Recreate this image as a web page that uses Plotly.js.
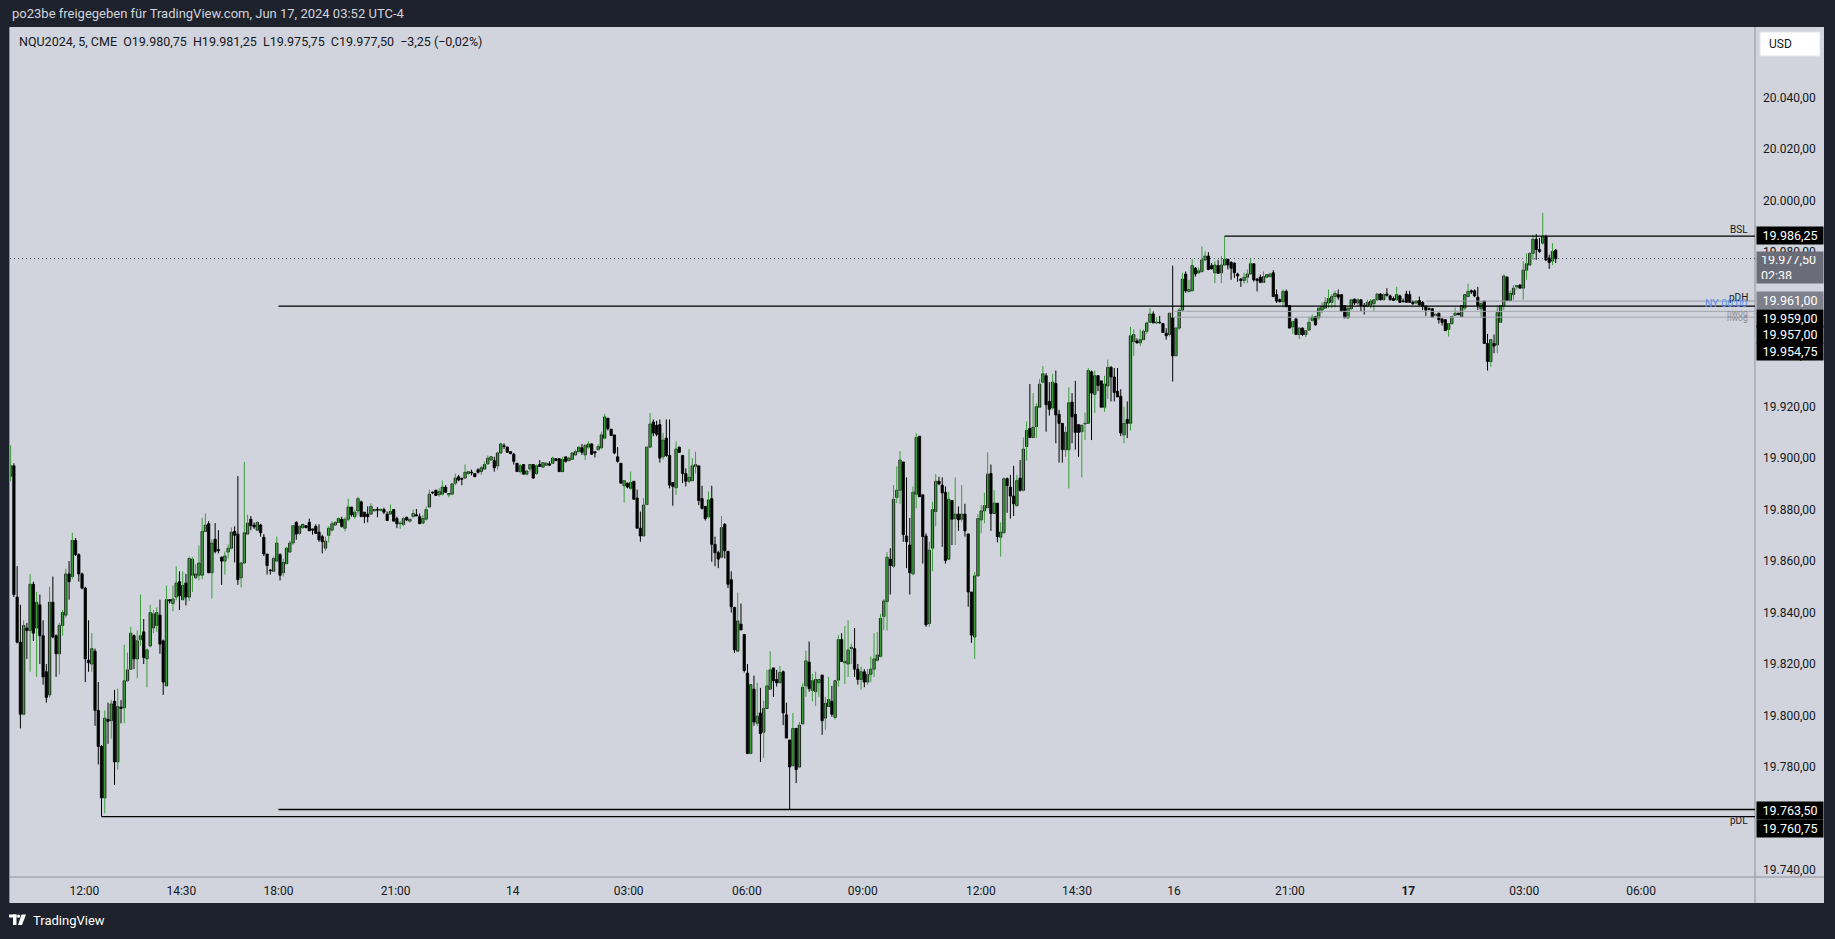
<!DOCTYPE html>
<html><head><meta charset="utf-8">
<script src="https://cdn.plot.ly/plotly-3.0.1.min.js"></script>
<style>html,body{margin:0;padding:0;background:#1e222d;overflow:hidden}#chart{width:1835px;height:939px}</style>
</head><body><div id="chart"></div><script>
// NQU2024, 5-minute bars, Jun 13 10:05 -> Jun 17 03:50 (ET)
const openPx = [
19893,19897,19846,19828.5,19800.5,19834,19833,19851,19834,19843,
19831,19817,19808,19844,19831,19824,19835,19839,19855,19854,
19868,19862.5,19855,19849.5,19821.5,19820,19825,19802,19788,19768,
19798.5,19798,19805.5,19782,19803.25,19803,19813.5,19818,19831,19822,
19829.5,19832.5,19822,19827,19834,19835,19839,19829,19811.5,19845,
19843.5,19846,19852,19845,19851.5,19846,19854.5,19853.5,19854.5,19854.5,
19871.5,19874.5,19855.5,19868.5,19864.5,19861.5,19860,19863.5,19865,19871.5,
19870.5,19853.5,19859.25,19870.5,19876.25,19874,19872,19874,19869.25,19862.75,
19856.5,19856,19860,19862.5,19855.5,19859,19863.5,19867,19875,19870.75,
19873,19873.75,19875,19872.5,19873.5,19871.25,19869.5,19865,19870,19872,
19874,19875,19876.25,19872.75,19876.25,19881,19877.25,19879.5,19883,19879,
19878.25,19878.25,19879.5,19880,19879.75,19880,19878.25,19878.25,19880,19876.5,
19874.5,19874.25,19877,19875.5,19877.25,19878,19877.25,19874.75,19876.25,19881,
19886.75,19887.5,19885.75,19886,19888.75,19885.75,19886,19890.25,19892.75,19892,
19892.25,19894,19894.5,19894,19895.5,19894.75,19895.75,19897.75,19899.25,19899,
19897,19902,19904.75,19904.25,19902.5,19901.5,19898,19894.75,19897.5,19893.75,
19895.75,19897.5,19894,19897.5,19896.5,19897.25,19897.75,19898,19899.75,19899.75,
19894.75,19900.5,19899,19899.5,19901.25,19902.5,19904,19901.25,19904.25,19905.5,
19902.5,19903.25,19904,19907.75,19915.5,19911.25,19909,19900.5,19898,19889.25,
19890.25,19888.25,19891,19884.5,19872.75,19869.75,19882,19904.25,19914,19912.75,
19913,19900.5,19907.75,19901,19890.5,19888.5,19904.25,19901,19894,19891,
19891.25,19896.75,19897,19884.25,19881.25,19877.25,19884.25,19866.5,19863.25,19861.5,
19874.25,19863.75,19852.75,19842,19825,19835.5,19831.5,19816.5,19785.25,19810.25,
19797,19801,19793.5,19802.75,19810.25,19818.5,19814,19812.75,19817,19800.25,
19790.5,19780.5,19795,19780,19796.75,19811.5,19820.75,19809.75,19809.25,19812.75,
19815.75,19799,19803.5,19805.5,19799.25,19813.75,19829.5,19820.5,19820,19826,
19826,19818,19814,19817,19813,19816,19818,19821.5,19823,19838.5,
19844.25,19860.75,19858,19884.75,19887.5,19898.5,19869.75,19866.25,19855,19886,
19908.5,19885.75,19869.75,19835.75,19865,19879.25,19891,19889.5,19886.75,19860.75,
19883.5,19876.5,19878.25,19876.25,19878.25,19870.5,19848,19830.5,19854.25,19876,
19879.5,19880.75,19894,19878.5,19882.5,19869.25,19871,19892,19888.75,19885.25,
19881.5,19892.25,19887.5,19904.5,19911.5,19908,19912.25,19919.75,19929.5,19932,
19922,19919.5,19929,19917,19913.5,19903.25,19903.25,19921.75,19917,19913,
19910.25,19913.25,19913.5,19933.5,19924.75,19932,19930,19919.75,19928,19935.25,
19931.5,19926,19924,19909,19915,19913.5,19945.25,19945.5,19944.75,19946,
19949.25,19952.75,19956,19952.5,19952.75,19952.25,19948.5,19948,19954.5,19939.75,
19950.5,19957.5,19971.5,19964.75,19965,19973.75,19972,19972.5,19977,19978.5,
19974.75,19972,19974.75,19972,19975,19977.25,19976,19975.75,19971.5,19969.5,
19969,19970.25,19971.5,19975.5,19969.5,19970.25,19968.25,19970.25,19970.5,19972,
19963.5,19961.5,19960.75,19964.75,19959.25,19951,19954,19948,19950.5,19948,
19949.75,19953.5,19955,19954.5,19957.5,19958.25,19960.25,19960.5,19962.75,19963.5,
19963.5,19959.25,19954.5,19958,19961.75,19960.25,19961.5,19959.25,19959.25,19959.5,
19960,19961.5,19963.75,19961.5,19963.75,19963,19962,19961.5,19963,19961,
19963.75,19963.5,19960.5,19960.25,19961.25,19960.5,19959,19958,19958,19955.5,
19956.25,19954,19953.75,19950,19952.25,19955.5,19956.25,19955,19958.25,19962.75,
19965,19965,19962.5,19958,19961,19944.5,19937.5,19944.5,19944,19952.75,
19959.25,19970.25,19961.25,19963.5,19966.5,19967.25,19966,19973,19975,19979.5,
19985,19981,19983.5,19986,19977.75,19976.5,19980.75];
const highPx = [
19905,19898,19858,19843,19837,19836,19855,19852,19848,19847,
19837,19820,19850,19854,19831.5,19836,19841,19857,19860,19871,
19869,19863,19855.5,19850,19837,19832,19826,19813,19788.5,19802,
19805,19806,19810,19810.5,19806,19827.5,19824.5,19834.5,19831.5,19833,
19847,19837.5,19826,19843,19841,19842,19845,19829.5,19850.5,19845.25,
19850.5,19858,19856,19856,19855,19861.75,19861.5,19858.75,19866,19876.75,
19878.5,19875.5,19868.5,19874.75,19872,19861.75,19863.75,19866.5,19873,19873.5,
19893,19859.75,19898.5,19878,19877.5,19875,19875.5,19874.5,19870.5,19862.75,
19856.75,19861.75,19869.5,19863,19861,19865.5,19868,19874,19875.5,19874,
19874.25,19874,19876.5,19872.5,19874.25,19874.25,19870.25,19869.5,19873.5,19875.5,
19875.5,19877,19877.25,19877,19884.25,19881,19880,19885,19883.5,19879,
19881.25,19882.5,19880,19881,19880.5,19880.75,19879.25,19882,19880,19877.25,
19875.5,19877.25,19877.25,19876.5,19880,19880.25,19878.5,19878,19881.25,19887.75,
19887,19887.75,19888.25,19891.25,19889.5,19886.25,19890.25,19894,19893.5,19892.5,
19897.5,19895,19895.5,19894,19896,19897,19898.75,19901,19900.5,19900.5,
19902.5,19906,19905.75,19904.5,19902.5,19902,19898,19897.75,19897.5,19895,
19897.5,19897.5,19897.5,19899.25,19898.5,19898.5,19898.75,19900.5,19900,19900,
19900.5,19900.5,19900.5,19902.25,19903.25,19904.5,19905.5,19905,19906.5,19905.75,
19902.5,19905.5,19910.25,19917.25,19915.5,19911.25,19909,19904.25,19898,19891.5,
19890.5,19894.75,19891,19887.75,19879.25,19884.5,19904.5,19917.5,19915,19914.5,
19915,19909.75,19915,19915,19890.5,19906.5,19904.5,19901.25,19896,19903.5,
19900,19902.5,19897,19889.25,19881.25,19887,19889.25,19869.5,19864,19877.5,
19874.75,19864,19856,19842.25,19847.75,19843.5,19831.5,19820,19812,19815.5,
19812.75,19810.75,19805.75,19817.75,19825,19818.5,19817.75,19819.25,19817.5,19805,
19790.5,19801,19795,19797.5,19812.5,19825.25,19828.75,19816.25,19817,19814.25,
19815.75,19807.25,19815,19811.5,19813.5,19831.25,19832,19834.75,19837,19828,
19834,19820,19819,19818,19818,19823,19832,19832.5,19839.5,19845.25,
19863.5,19865,19889.5,19896.75,19902.75,19898.5,19892.5,19876.75,19889,19909.75,
19908.5,19885.75,19870.75,19867.5,19883,19893.75,19892.75,19892.5,19889,19887,
19883.5,19892.5,19881.25,19889.5,19882.25,19870.75,19848,19855.75,19878.25,19881.75,
19886.5,19902.25,19897.5,19887.5,19882.5,19875,19892.5,19892.5,19893.5,19897,
19893.5,19899.25,19908,19914.25,19928.75,19925.25,19921.25,19930.75,19935.75,19933,
19929.5,19932.75,19934,19918.75,19913.5,19912.25,19927.5,19925.25,19930,19913,
19913,19917.75,19935,19934,19934,19932.25,19930,19932,19938.25,19935.75,
19935,19935,19926.75,19920,19922,19951,19950,19946.5,19950,19950,
19953,19958.25,19957,19954.75,19955.25,19952.5,19950.5,19956.5,19974.75,19951,
19958.25,19972,19972.5,19969.25,19977.25,19974.25,19974,19982.25,19980.25,19980,
19975.75,19976.5,19977,19978.5,19986.25,19977.25,19976.5,19976,19972,19970,
19972,19973.25,19977.75,19975.5,19970,19971.25,19972.5,19971.25,19972,19973,
19965.5,19962,19965.5,19965.5,19959.25,19953.25,19954.5,19950.75,19950.75,19949.75,
19955,19955.75,19955.25,19958.5,19960.5,19962.5,19965.5,19963.75,19965,19965.5,
19963.5,19959.25,19958.5,19961.75,19962,19962,19961.75,19960.25,19961.5,19961.75,
19961.75,19964,19964,19964,19966,19963.5,19962.75,19966.5,19963.5,19962,
19965,19965,19961.25,19961.25,19962.75,19961,19959.25,19958.5,19958.25,19956.25,
19956.5,19954.5,19954,19952.5,19955.25,19958.5,19956.5,19959.25,19963.5,19967.75,
19965.5,19965.5,19966.5,19961,19961,19948.25,19946,19948,19959.25,19959.5,
19971.25,19970.75,19965,19967.25,19967.25,19967.5,19976.5,19979.5,19980,19986.75,
19987,19985.5,19995.25,19986.75,19979,19983.5,19981.25];
const lowPx = [
19891,19846,19828,19795,19800,19822,19817,19829,19815,19820,
19812,19805,19807,19830,19815,19816,19831,19838,19845,19853,
19862,19852,19849,19813,19817,19817,19796,19781,19760.75,19762,
19789,19791,19773,19779,19797,19797,19813,19818,19818,19814.5,
19827,19820,19811,19826.5,19832,19832.5,19824,19808,19811.5,19843.5,
19840.5,19844.75,19841,19844.75,19842.75,19844.5,19848,19853,19852.5,19853,
19871.25,19855.25,19845.5,19863,19863,19850.75,19854.75,19861,19864.5,19859.5,
19850.75,19849.75,19859,19870.25,19872,19872.5,19872,19869.5,19862,19854.75,
19854.75,19855.75,19859.75,19852.5,19854,19858.75,19863.25,19866.25,19868.25,19870.25,
19872.5,19872.75,19871.75,19870.25,19870.5,19867.5,19863,19864,19867.25,19871.5,
19873.75,19874.75,19873,19871.5,19875.5,19877.25,19876.5,19878,19877.25,19874.75,
19875,19878,19879.5,19877,19879.25,19878.25,19875.75,19878,19875.5,19872.75,
19872.5,19873.5,19875.5,19875,19877,19877.5,19874.5,19874.5,19875.75,19880.75,
19886,19885.25,19885,19885.5,19886.5,19884.75,19885.75,19889.5,19891,19889.5,
19892,19893.5,19893.25,19892.75,19894,19893.5,19895.5,19897.5,19899,19894.75,
19895.5,19901.5,19903.5,19902,19901.5,19897.5,19894.75,19894,19893.75,19893.25,
19894.75,19892,19893.5,19896.75,19896.5,19897,19897,19897.75,19899,19894.75,
19894.75,19898.25,19899,19899.25,19901,19902.25,19901.25,19899.25,19903.5,19901.25,
19900.25,19903,19903.5,19907.25,19910.75,19908.75,19901.5,19898.25,19890.25,19882.75,
19888.25,19887.75,19884,19872.75,19867.5,19869.75,19881.75,19904,19908.5,19908.5,
19898.25,19899.5,19900.5,19888.25,19881.5,19885.75,19902,19890.25,19889,19890.25,
19891.25,19894,19881.75,19880,19875.75,19876.5,19859.75,19858,19857.25,19861,
19861,19849.5,19840,19824.25,19824.75,19833.25,19816.75,19785,19785,19796,
19796,19782,19783.5,19802.75,19810.25,19807.25,19811.25,19812.5,19796.25,19791.25,
19763.5,19780.5,19773.75,19780,19796.75,19807.25,19809.25,19805.5,19803.75,19807.25,
19792.5,19794.5,19803.5,19799.5,19798.5,19811.25,19821,19812.25,19815,19820,
19815,19812,19810,19811,19812,19813,19815,19821,19822.5,19833.25,
19833,19847,19857.25,19882.5,19882.25,19867.5,19857.25,19847,19854.5,19880.5,
19885,19859,19834.5,19834.5,19856,19873.5,19889.5,19865.5,19859,19860.5,
19866.25,19866.25,19871.75,19875.25,19869.5,19842.25,19828.25,19822,19854,19870.75,
19874.75,19880.5,19871.75,19878.5,19867.25,19861.75,19870.75,19878.75,19876.5,19877.5,
19881.25,19887,19887,19899,19907.75,19907.75,19907.75,19919.5,19929,19910.25,
19916.5,19918.75,19905.75,19898.25,19898.25,19900.5,19888.25,19905.75,19903.25,19900.5,
19892.5,19907,19913.25,19907,19917.5,19926,19919.75,19918,19923,19922,
19922,19923.75,19908.5,19905.75,19907.75,19910.75,19939.75,19944.5,19943.5,19946,
19948.25,19952.5,19952.5,19952.25,19952.25,19948.75,19946,19947.25,19929.75,19939.75,
19949.75,19957.5,19964.25,19964.25,19964.75,19970.5,19971.5,19972,19976.5,19973,
19973.25,19968,19971.5,19968,19974.75,19973.25,19969.25,19970,19968.5,19966.5,
19967.75,19968,19971.25,19968.5,19964.75,19968,19968,19970,19970.25,19962.5,
19960.25,19960.5,19958.5,19958.5,19950.5,19948.25,19948,19946.25,19947.5,19947,
19949.5,19953,19951.5,19953.75,19956.25,19958,19958.25,19958.25,19958.5,19961.5,
19957,19954.5,19954,19957.5,19959.5,19959,19957,19955.75,19958.5,19958.25,
19957.25,19961.25,19961.25,19961.25,19962.75,19961.25,19961,19961.25,19960.25,19960.5,
19960.5,19960.5,19959.5,19960,19959.25,19957.5,19955.25,19957.5,19954.75,19955.25,
19952.25,19951.5,19949.5,19947.25,19951.75,19955.25,19955.5,19955,19957.5,19962.5,
19963.75,19962.5,19957.5,19954.5,19944.5,19934,19935.5,19940.75,19940.75,19952.5,
19957.5,19961.25,19961,19961.5,19965.5,19966,19961.5,19969.25,19974.75,19977,
19977,19979.75,19983,19976.5,19973.5,19975,19975.75];
const closePx = [
19897,19847,19828.5,19800.5,19835,19833,19851,19832,19844,19831,
19815,19807,19844,19830.5,19824,19835,19840,19855,19852,19868,
19862.5,19855,19849.5,19822,19820.5,19826,19802,19788,19768,19799,
19797.75,19804.5,19782,19803.5,19802.75,19813.5,19817.75,19832,19822,19829,
19831,19822.5,19825.5,19840,19839.5,19840,19827.75,19813,19845,19844.5,
19845.25,19851.5,19846.5,19850.5,19846,19861,19860.75,19855,19859.25,19871.5,
19874,19855.5,19867,19863.75,19864,19860,19862,19865,19871.25,19870,
19852.75,19859.25,19871,19874.75,19873.75,19873.25,19875,19871,19862.75,19858.25,
19856.25,19861,19867,19854.5,19859.5,19865,19867,19873.75,19870.5,19873.5,
19874.25,19873,19871.75,19872,19870.75,19868.25,19867.5,19867.75,19872.75,19874.5,
19875,19876.5,19873.5,19876.25,19881,19878,19879,19884.25,19877.25,19877.25,
19877.25,19881.25,19880,19879.75,19880,19879,19875.75,19879.25,19875.5,19874.5,
19874.75,19876.5,19876,19876.25,19878.5,19877.5,19874.5,19876.5,19880,19886,
19886.5,19885.5,19887,19888.75,19886.75,19886.25,19890,19892.25,19891.5,19891.75,
19894.5,19894.75,19894.25,19892.75,19894.5,19896.25,19897.5,19900,19900.5,19896.25,
19902,19905.5,19904.5,19902.25,19901.75,19898.75,19894.75,19897,19893.75,19895,
19897.5,19892.25,19897,19896.75,19898.25,19898,19897.25,19900,19899,19894.75,
19899.5,19898.75,19900,19902,19902.5,19904.25,19902.25,19905,19905.5,19901.5,
19902,19904.5,19909,19916,19911.5,19908.75,19902,19898.75,19890.25,19891.25,
19888.75,19890.5,19884,19872.75,19869.75,19881.75,19904.25,19913.25,19909.75,19909.25,
19900,19907,19901,19889.5,19889,19903.5,19902.25,19894,19891,19892.5,
19897,19897.5,19883.5,19880.5,19876.5,19883.75,19866.5,19863.25,19860.75,19873,
19864,19851,19842.25,19825.5,19836.75,19833.25,19817.5,19785.25,19812,19797.5,
19799.75,19793,19802.75,19811.5,19817.75,19813.5,19812.75,19816.75,19801,19791.25,
19780,19795,19779,19796.25,19811,19821.25,19810.5,19813.5,19814,19814,
19798,19804.75,19806.25,19800.5,19813.5,19829.5,19821,19821,19825.5,19826.5,
19818,19814,19817,19813,19816,19818,19822,19823.5,19837.75,19844.5,
19861.5,19858.25,19884,19887.5,19899.25,19870.25,19867.5,19855.5,19886.75,19908,
19885,19869.5,19835.25,19864.25,19880,19891,19890,19886.5,19860.25,19884,
19876.25,19878.25,19876,19878.25,19871.75,19848,19831.25,19854.25,19876.5,19879.5,
19881.5,19893.75,19878.5,19882.5,19869.5,19871.25,19892,19889.25,19885.25,19882.25,
19891.25,19887.5,19903.5,19910.75,19908,19912,19920,19928.75,19932.75,19920.75,
19919,19929.5,19916.75,19913.5,19903.25,19910,19921.5,19916,19910,19910,
19912.75,19913.5,19934,19925.25,19932,19928.25,19919.75,19928.75,19935.25,19931.5,
19925.5,19923.75,19909.75,19913.5,19913.5,19947.5,19948,19944.75,19946,19949.25,
19952.5,19956,19952.5,19952.75,19952.5,19948.75,19947.5,19956.25,19939.75,19950.5,
19957.5,19969.5,19965,19965.5,19974.75,19971.5,19972.75,19977,19978.5,19973.25,
19973.5,19975,19971.75,19975,19977.25,19975,19973.75,19972,19970.75,19969,
19970.25,19971.5,19975.5,19969.25,19969,19968.25,19970.5,19971.25,19971.5,19962.75,
19961,19960.75,19964.75,19959,19950.5,19953,19948,19950.5,19948,19949.5,
19952.75,19954.75,19951.75,19958.25,19959,19960.5,19962,19962.75,19964,19962.5,
19957,19954.5,19958.25,19961.5,19960.25,19961.5,19959.25,19959,19960.5,19961,
19961.5,19963.75,19961.5,19963.5,19963.25,19961.5,19961.25,19963.5,19960.5,19960.75,
19960.5,19960.5,19960,19961,19959.5,19959,19957.5,19957.75,19954.75,19955.75,
19953.75,19952.75,19949.5,19952.25,19955,19956.25,19955.75,19959.25,19963.5,19964.75,
19964.5,19963,19959.25,19960,19944.5,19937.5,19946,19943.5,19956.5,19959.25,
19970.75,19961.25,19964,19966,19967,19966,19973,19975.5,19979.5,19985,
19981,19980.25,19986,19977,19976,19980.25,19977.5];

// time axis
const timeTickPos  = [22.7,52.6,82.5,118.6,154.7,190.4,226.8,262.5,298.9,328.5,358.4,394.1,430.6,466.3,502.3];
const timeTickText = ['12:00','14:30','18:00','21:00','14','03:00','06:00','09:00','12:00','14:30','16','21:00','<b>17</b>','03:00','06:00'];
// price axis
const priceTicks = [19740,19760,19780,19800,19820,19840,19860,19880,19900,19920,19940,19960,19980,20000,20020,20040];
// drawn levels
const lvlBSL = 19986.25, lvlPDH = 19961, lvlBlack = 19959, lvlNwog1 = 19957, lvlNwog2 = 19954.75, lvlLow = 19763.5, lvlPDL = 19760.75, lastPrice = 19977.5;
const lvlBSLStart = 374, lvlPDHStart = 436, lvlBlackStart = 82.5, lvlNwogStart = 358, lvlLowStart = 82.5, lvlPDLStart = 28;

const UP = '#3a9e3a', DOWN = '#000000';
const FONT = 'Roboto, "Liberation Sans", Arial, sans-serif';
const XMIN = -0.2, XMAX = 537.4;

const idx = openPx.map((_, i) => i);
const isUp = idx.map(i => closePx[i] >= openPx[i]);
const upWx = [], upWy = [], dnWx = [], dnWy = [];
idx.forEach(i => {
  if (isUp[i]) { upWx.push(i, i, null); upWy.push(lowPx[i], highPx[i], null); }
  else { dnWx.push(i, i, null); dnWy.push(lowPx[i], highPx[i], null); }
});
const bodyBase = idx.map(i => Math.min(openPx[i], closePx[i]));
const bodyLen = idx.map(i => Math.max(Math.abs(closePx[i] - openPx[i]), 0.3));
const bodyCol = idx.map(i => isUp[i] ? UP : DOWN);

const traces = [
  {type:'scatter', mode:'lines', x:upWx, y:upWy, line:{color:UP, width:1}, hoverinfo:'skip', connectgaps:false},
  {type:'scatter', mode:'lines', x:dnWx, y:dnWy, line:{color:DOWN, width:1}, hoverinfo:'skip', connectgaps:false},
  {type:'bar', x:idx, y:bodyLen, base:bodyBase, width:0.72, marker:{color:bodyCol, line:{color:'#000', width:0.8}}, hoverinfo:'skip'}
];

const PX = x => (x - 10) / 1745;
const PY = y => (877 - y) / 850;

function hline(y, x0, color, width, dash) {
  return {type:'line', xref:'x', yref:'y', x0:x0, x1:XMAX, y0:y, y1:y, line:{color:color, width:width, dash:dash||'solid'}};
}

const shapes = [
  {type:'rect', xref:'paper', yref:'paper', x0:PX(9), x1:PX(1824), y0:PY(903), y1:PY(27), fillcolor:'#d1d4dc', line:{width:0}, layer:'below'},
  {type:'line', xref:'paper', yref:'paper', x0:PX(1755), x1:PX(1755), y0:PY(903), y1:PY(27), line:{color:'#8f929b', width:1}},
  {type:'line', xref:'paper', yref:'paper', x0:PX(9), x1:PX(1824), y0:PY(877), y1:PY(877), line:{color:'#8f929b', width:1}},
  {type:'line', xref:'paper', yref:'paper', x0:PX(9.5), x1:PX(9.5), y0:PY(903), y1:PY(27), line:{color:'#8f929b', width:1}},
  hline(lastPrice, XMIN, '#50535e', 1, '1px,3px'),
  hline(lvlBSL, lvlBSLStart, '#000', 1.3),
  hline(lvlPDH, lvlPDHStart, '#9598a1', 1),
  hline(lvlNwog1, lvlNwogStart, '#a3a6af', 1),
  hline(lvlNwog2, lvlNwogStart, '#a3a6af', 1),
  hline(lvlBlack, lvlBlackStart, '#000', 1.3),
  hline(lvlLow, lvlLowStart, '#000', 1.3),
  hline(lvlPDL, lvlPDLStart, '#000', 1.3),
  // USD box
  {type:'rect', xref:'paper', yref:'paper', x0:PX(1760), x1:PX(1820), y0:PY(56), y1:PY(32), fillcolor:'#ffffff', line:{color:'#e0e3eb', width:1}},
  // TradingView logo
  {type:'rect', xref:'paper', yref:'paper', x0:PX(9), x1:PX(16.5), y0:PY(917.5), y1:PY(914.5), fillcolor:'#ffffff', line:{width:0}},
  {type:'rect', xref:'paper', yref:'paper', x0:PX(13), x1:PX(16.5), y0:PY(925), y1:PY(914.5), fillcolor:'#ffffff', line:{width:0}},
  {type:'circle', xref:'paper', yref:'paper', x0:PX(17), x1:PX(20.2), y0:PY(917.8), y1:PY(914.5), fillcolor:'#ffffff', line:{width:0}},
  {type:'path', xref:'paper', yref:'paper', path:`M ${PX(21.5)} ${PY(914.5)} L ${PX(26)} ${PY(914.5)} L ${PX(22)} ${PY(925)} L ${PX(18)} ${PY(925)} Z`, fillcolor:'#ffffff', line:{width:0}}
];

function priceBox(text, cy, bg) {
  return {xref:'paper', yref:'paper', x:PX(1756), y:PY(cy), xanchor:'left', yanchor:'middle', text:text, showarrow:false,
    bgcolor:bg, borderpad:2, width:62, height:13, align:'center', font:{family:FONT, size:12.5, color:'#ffffff'}};
}
function lineLabel(text, cy, color, size) {
  return {xref:'paper', yref:'paper', x:PX(1750), y:PY(cy), xanchor:'right', yanchor:'middle', text:text, showarrow:false,
    font:{family:FONT, size:size, color:color}};
}

const annotations = [
  {xref:'paper', yref:'paper', x:PX(10), y:PY(13), xanchor:'left', yanchor:'middle', showarrow:false,
   text:'po23be freigegeben für TradingView.com, Jun 17, 2024 03:52 UTC-4', font:{family:FONT, size:13, color:'#d1d4dc'}},
  {xref:'paper', yref:'paper', x:PX(17), y:PY(41), xanchor:'left', yanchor:'middle', showarrow:false,
   text:'NQU2024, 5, CME\u00a0\u00a0O19.980,75\u00a0\u00a0H19.981,25\u00a0\u00a0L19.975,75\u00a0\u00a0C19.977,50\u00a0\u00a0\u22123,25 (\u22120,02%)',
   font:{family:FONT, size:12.5, color:'#131722'}},
  {xref:'paper', yref:'paper', x:PX(1767), y:PY(44), xanchor:'left', yanchor:'middle', showarrow:false, text:'USD', font:{family:FONT, size:12, color:'#131722'}},
  {xref:'paper', yref:'paper', x:PX(31), y:PY(920), xanchor:'left', yanchor:'middle', showarrow:false, text:'TradingView', font:{family:FONT, size:13, color:'#ffffff'}},
  priceBox('19.986,25', 235.5, '#000000'),
  {xref:'paper', yref:'paper', x:PX(1756), y:PY(267), xanchor:'left', yanchor:'middle', text:'19.977,50<br>02:38', showarrow:false,
   bgcolor:'#6a6d78', borderpad:4, width:58, height:23, align:'left', font:{family:FONT, size:12.5, color:'#ffffff'}},
  priceBox('19.961,00', 300.5, '#7e818b'),
  priceBox('19.959,00', 318, '#000000'),
  priceBox('19.957,00', 334.8, '#000000'),
  priceBox('19.954,75', 351.5, '#000000'),
  priceBox('19.763,50', 810.8, '#000000'),
  priceBox('19.760,75', 828.3, '#000000'),
  lineLabel('BSL', 230, '#131722', 10),
  lineLabel('pDH', 297, '#131722', 10),
  lineLabel('NY 00:00', 303.5, '#5b8ff0', 10.5),
  lineLabel('nwog', 312.5, '#8a8d96', 8.5),
  lineLabel('nwog', 318.5, '#8a8d96', 8.5),
  lineLabel('pDL', 820, '#131722', 10)
];

const layout = {
  width:1835, height:939,
  margin:{l:10, r:80, t:27, b:62, pad:0},
  paper_bgcolor:'#1e222d', plot_bgcolor:'#d1d4dc',
  separators:',.',
  showlegend:false, barmode:'overlay', hovermode:false,
  font:{family:FONT, size:12, color:'#131722'},
  xaxis:{range:[XMIN, XMAX], showgrid:false, zeroline:false, showline:false, tickmode:'array',
         tickvals:timeTickPos, ticktext:timeTickText, ticks:'', ticklabelstandoff:5,
         tickfont:{family:FONT, size:12, color:'#131722'}, fixedrange:true},
  yaxis:{side:'right', range:[19737.28, 20067.46], showgrid:false, zeroline:false, showline:false, tickmode:'array',
         tickvals:priceTicks, tickformat:',.2f', ticks:'', ticklabelstandoff:7,
         tickfont:{family:FONT, size:12, color:'#131722'}, fixedrange:true},
  shapes:shapes, annotations:annotations
};

Plotly.newPlot('chart', traces, layout, {displayModeBar:false, staticPlot:true});
</script></body></html>
